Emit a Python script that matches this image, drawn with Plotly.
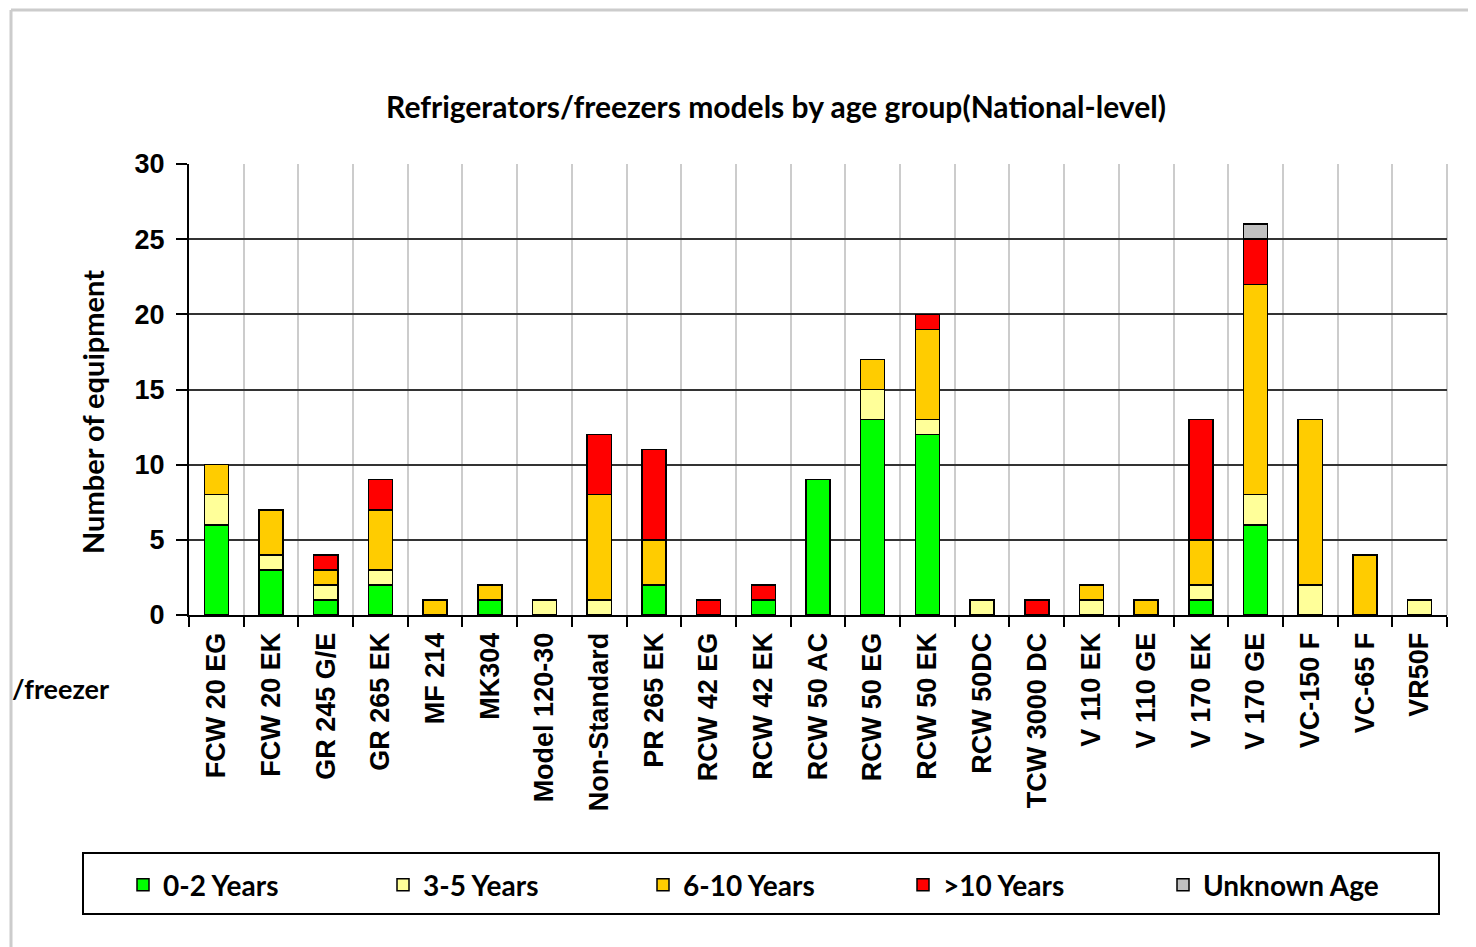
import plotly.graph_objects as go

categories = ["FCW 20 EG", "FCW 20 EK", "GR 245 G/E", "GR 265 EK", "MF 214", "MK304",
              "Model 120-30", "Non-Standard", "PR 265 EK", "RCW 42 EG", "RCW 42 EK",
              "RCW 50 AC", "RCW 50 EG", "RCW 50 EK", "RCW 50DC", "TCW 3000 DC",
              "V 110 EK", "V 110 GE", "V 170 EK", "V 170 GE", "VC-150 F", "VC-65 F", "VR50F"]
years_0_2 = [6, 3, 1, 2, 0, 1, 0, 0, 2, 0, 1, 9, 13, 12, 0, 0, 0, 0, 1, 6, 0, 0, 0]
years_3_5 = [2, 1, 1, 1, 0, 0, 1, 1, 0, 0, 0, 0, 2, 1, 1, 0, 1, 0, 1, 2, 2, 0, 1]
years_6_10 = [2, 3, 1, 4, 1, 1, 0, 7, 3, 0, 0, 0, 2, 6, 0, 0, 1, 1, 3, 14, 11, 4, 0]
years_10_plus = [0, 0, 1, 2, 0, 0, 0, 4, 6, 1, 1, 0, 0, 1, 0, 1, 0, 0, 8, 3, 0, 0, 0]
unknown_age = [0, 0, 0, 0, 0, 0, 0, 0, 0, 0, 0, 0, 0, 0, 0, 0, 0, 0, 0, 1, 0, 0, 0]

series_names = ["0-2 Years", "3-5 Years", "6-10 Years", ">10 Years", "Unknown Age"]
series_values = [years_0_2, years_3_5, years_6_10, years_10_plus, unknown_age]
series_colors = ["#00FF00", "#FFFF99", "#FFCC00", "#FF0000", "#C0C0C0"]

W, H = 1476, 947
OFF = 8  # page body margin offset of the rendered figure
L, T = 189 - OFF, 164 - OFF
R, B = W - (1447 - OFF), H - (615 - OFF)
pw, ph = W - L - R, H - T - B


def px_x(p):
    # p is the target screen pixel in the photographed page
    return (p - OFF - L) / pw


def px_y(p):
    return (H - B - (p - OFF)) / ph


fig = go.Figure()
for name, vals, col in zip(series_names, series_values, series_colors):
    fig.add_trace(go.Bar(
        x=categories, y=[v if v else None for v in vals], name=name,
        marker=dict(color=col, line=dict(color="#000000", width=1.5)),
    ))

title_font = dict(family="Lato", size=30, color="#000000", weight="bold")
tick_font = dict(family="Liberation Sans", size=27, color="#000000", weight="bold")

fig.update_layout(
    width=W, height=H,
    margin=dict(l=L, r=R, t=T, b=B, autoexpand=False),
    paper_bgcolor="white", plot_bgcolor="white",
    barmode="stack", bargap=0.56,
    title=dict(text="Refrigerators/freezers models by age group(National-level)",
               font=title_font, x=px_x(776), xref="paper", xanchor="center",
               y=1 - (107 - OFF) / H, yref="container", yanchor="middle"),
    showlegend=True,
    legend=dict(orientation="h", x=px_x(123), xanchor="left", y=px_y(885), yanchor="middle",
                font=dict(family="Lato", size=28, color="#000000", weight="bold"),
                bgcolor="rgba(0,0,0,0)", borderwidth=0, traceorder="normal",
                entrywidth=215, entrywidthmode="pixels"),
    xaxis=dict(type="category", tickson="boundaries", ticks="outside", ticklen=10,
               tickwidth=2, tickcolor="#000000", tickangle=-90, tickfont=tick_font,
               ticklabelstandoff=5,
               showgrid=True, gridcolor="#CCCCCC", gridwidth=2,
               showline=True, linecolor="#000000", linewidth=2,
               range=[-0.5, len(categories) - 0.5]),
    yaxis=dict(range=[0, 30], dtick=5, tick0=0, ticks="outside", ticklen=11, tickwidth=2,
               tickcolor="#000000", tickfont=tick_font, ticklabelstandoff=6,
               showgrid=True, gridcolor="#333333", gridwidth=2,
               showline=True, linecolor="#000000", linewidth=2, zeroline=False),
)

# y axis title
fig.add_annotation(text="Number of equipment", xref="paper", yref="paper",
                   x=px_x(92), y=px_y(412), xanchor="center", yanchor="middle",
                   textangle=-90, showarrow=False,
                   font=dict(family="Lato", size=29, color="#000000", weight="bold"))
# cropped text fragment at left
fig.add_annotation(text="/freezer", xref="paper", yref="paper",
                   x=px_x(10), y=px_y(688), xanchor="left", yanchor="middle",
                   showarrow=False,
                   font=dict(family="Lato", size=27, color="#000000", weight="bold"))

# right plot boundary gridline
fig.add_shape(type="line", xref="paper", yref="paper", x0=1, x1=1, y0=0, y1=1,
              line=dict(color="#CCCCCC", width=2), layer="below")
# legend box
fig.add_shape(type="rect", xref="paper", yref="paper",
              x0=px_x(83), x1=px_x(1439), y0=px_y(914), y1=px_y(853),
              line=dict(color="#000000", width=2))
# outer frame (top and left)
fig.add_shape(type="line", xref="paper", yref="paper", x0=px_x(11), x1=px_x(W + 20),
              y0=px_y(10), y1=px_y(10), line=dict(color="#CCCCCC", width=3))
fig.add_shape(type="line", xref="paper", yref="paper", x0=px_x(11), x1=px_x(11),
              y0=px_y(10), y1=px_y(H + 20), line=dict(color="#CCCCCC", width=3))

fig.write_html("out.html")
